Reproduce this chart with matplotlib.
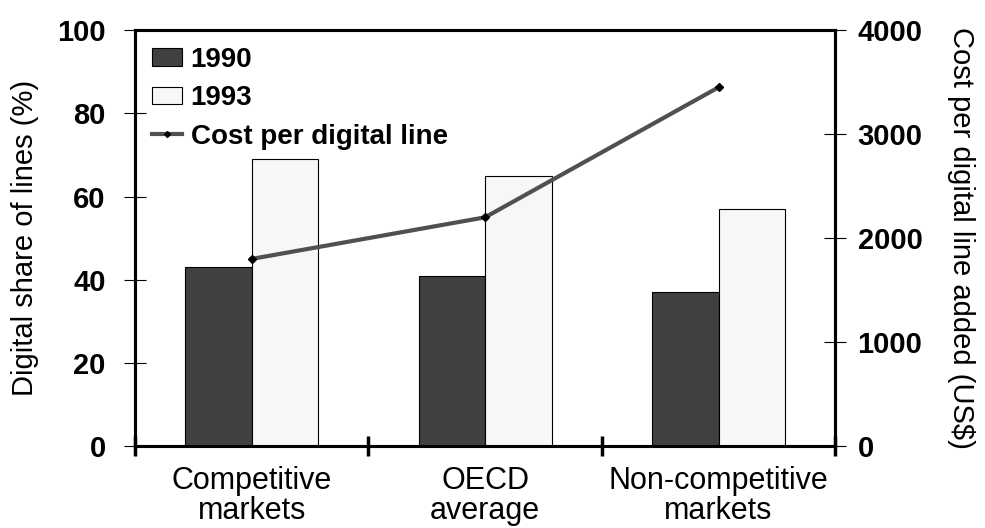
import numpy as np
import matplotlib
matplotlib.use("Agg")
import matplotlib.pyplot as plt
from matplotlib.lines import Line2D
from matplotlib.patches import Patch

plt.rcParams["font.family"] = ["Liberation Sans", "DejaVu Sans"]

# データ
categories = ["Competitive\nmarkets", "OECD\naverage", "Non-competitive\nmarkets"]
share_1990 = [43, 41, 37]
share_1993 = [69, 65, 57]
cost_per_line = [1800, 2200, 3450]

dark = "#404040"
light = "#f7f7f7"
line_col = "#505050"

fig = plt.figure(figsize=(9.85, 5.28), dpi=100)
ax = fig.add_axes([0.137, 0.155, 0.711, 0.788])
ax2 = ax.twinx()

x = np.arange(len(categories))
w = 0.285
ax.bar(x - w / 2, share_1990, w, color=dark, edgecolor="black", linewidth=0.8, zorder=2)
ax.bar(x + w / 2, share_1993, w, color=light, edgecolor="black", linewidth=0.8, zorder=2)

ax2.plot(x, cost_per_line, color=line_col, linewidth=3, marker="D", markersize=4,
         markerfacecolor="black", markeredgecolor="black", zorder=3)

ax.set_xlim(-0.5, 2.5)
ax.set_ylim(0, 100)
ax2.set_ylim(0, 4000)

ax.set_yticks(range(0, 101, 20))
ax2.set_yticks(range(0, 4001, 1000))

# 区切り目盛り（境界）とカテゴリラベル（中央）
ax.set_xticks([-0.5, 0.5, 1.5, 2.5])
ax.set_xticklabels([])
ax.set_xticks(x, minor=True)
ax.set_xticklabels(categories, minor=True, fontsize=22, linespacing=1.0)
ax.tick_params(axis="x", which="major", direction="inout", length=15, width=2.5)
ax.tick_params(axis="x", which="minor", length=0, pad=14)

ax.tick_params(axis="y", direction="inout", length=16, width=0.8, pad=13, labelsize=21)
ax2.tick_params(axis="y", direction="inout", length=16, width=0.8, pad=8, labelsize=21)
for t in ax.get_yticklabels() + ax2.get_yticklabels():
    t.set_fontweight("bold")

for a in (ax, ax2):
    for s in a.spines.values():
        s.set_linewidth(2.2)

ax.set_ylabel("Digital share of lines (%)", fontsize=21, labelpad=13)
ax2.set_ylabel("Cost per digital line added (US$)", fontsize=21, rotation=-90, labelpad=38)

handles = [
    Patch(facecolor=dark, edgecolor="black", linewidth=0.8),
    Patch(facecolor=light, edgecolor="black", linewidth=0.8),
    Line2D([0], [0], color=line_col, linewidth=3, marker="D", markersize=3,
           markerfacecolor="black", markeredgecolor="black"),
]
leg = ax.legend(handles, ["1990", "1993", "Cost per digital line"], loc="upper left",
                frameon=False, prop={"size": 20, "weight": "bold"}, handlelength=1.1,
                handleheight=0.6, handletextpad=0.3, labelspacing=0.45,
                borderaxespad=0.3, borderpad=0.3)
leg.set_zorder(5)

fig.savefig("out.png", dpi=100)
